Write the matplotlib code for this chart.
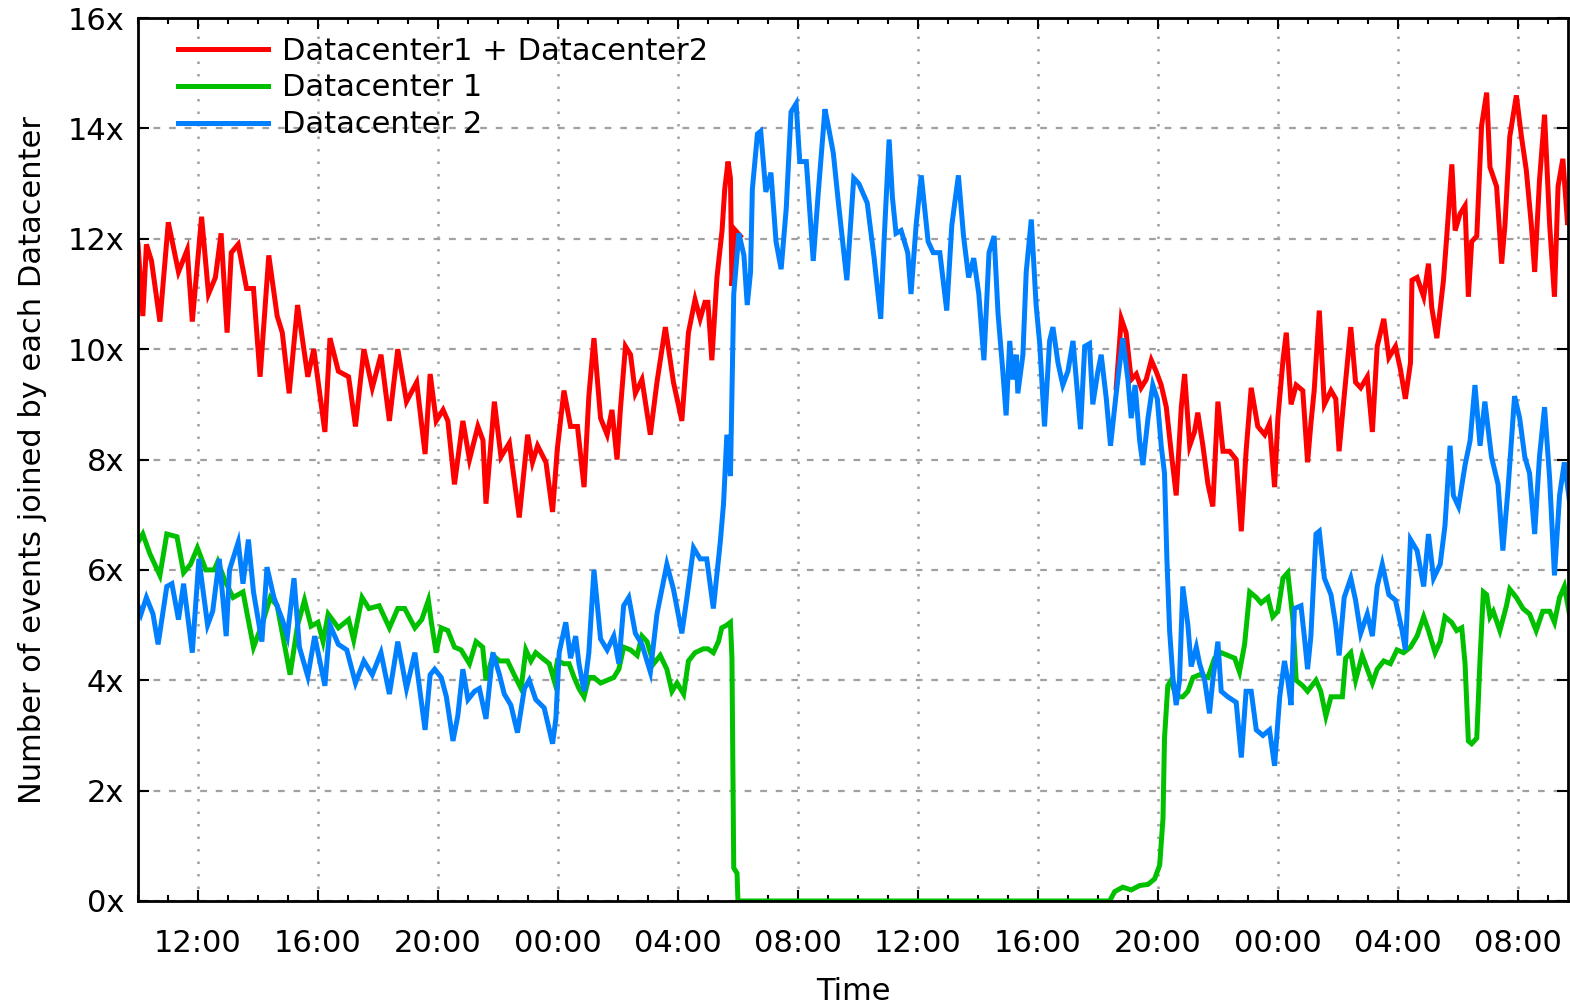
import matplotlib
matplotlib.use("Agg")
import matplotlib.pyplot as plt
import matplotlib.dates as mdates
import numpy as np
import pandas as pd

plt.rcParams['font.family'] = ['DejaVu Sans']

# hours since the first day 10:00
start = pd.Timestamp('2000-01-01 10:00')

red_h = [0, 0.16, 0.28, 0.45, 0.73, 1.01, 1.35, 1.64, 1.81, 2.12, 2.35, 2.58, 2.77, 2.97, 3.11, 3.34, 3.62, 3.85,
         4.07, 4.36, 4.64, 4.81, 5.04, 5.32, 5.66, 5.86, 6.23, 6.40, 6.68, 7.02, 7.25, 7.53, 7.81, 8.10, 8.38, 8.66,
         8.95, 9.29, 9.57, 9.74, 9.94, 10.17, 10.33, 10.55, 10.83, 11.05, 11.33, 11.5, 11.6, 11.88, 12.1, 12.38,
         12.71, 12.99, 13.15, 13.32, 13.6, 13.82, 13.98, 14.2, 14.42, 14.65, 14.87, 15.03, 15.2, 15.42, 15.64, 15.8,
         15.97, 16.08, 16.25, 16.42, 16.58, 16.8, 17.08, 17.3, 17.58, 17.85, 18.13, 18.35, 18.57, 18.74, 18.9, 19.0,
         19.13, 19.3, 19.47, 19.56, 19.67, 19.75, 19.8, 19.92, 20.08,
         26.0,
         32.61, 32.78, 32.94, 33.11, 33.28, 33.44, 33.61, 33.78, 33.94, 34.11, 34.28, 34.44, 34.61, 34.78, 34.89,
         35.06, 35.22, 35.33, 35.5, 35.67, 35.83, 36.0, 36.17, 36.39, 36.61, 36.78, 36.94, 37.11, 37.33, 37.56,
         37.72, 37.89, 38.0, 38.17, 38.28, 38.44, 38.61, 38.83, 38.99, 39.1, 39.21, 39.38, 39.55, 39.77, 39.93,
         40.04, 40.21, 40.43, 40.59, 40.76, 40.98, 41.15, 41.31, 41.53, 41.7, 41.92, 42.08, 42.25, 42.42, 42.47,
         42.64, 42.86, 43.02, 43.13, 43.3, 43.52, 43.63, 43.8, 43.91, 44.07, 44.24, 44.35, 44.46, 44.63, 44.79,
         44.96, 45.07, 45.29, 45.46, 45.57, 45.73, 45.95, 46.12, 46.28, 46.45, 46.56, 46.72, 46.89, 47.06, 47.22,
         47.34, 47.5, 47.66, 47.72]
red_v = [11.9, 10.6, 11.9, 11.6, 10.5, 12.3, 11.4, 11.8, 10.5, 12.4, 11.0, 11.3, 12.1, 10.3, 11.75, 11.9, 11.1, 11.1,
         9.5, 11.7, 10.6, 10.3, 9.2, 10.8, 9.5, 10.0, 8.5, 10.2, 9.6, 9.5, 8.6, 10.0, 9.3, 9.9, 8.7, 10.0,
         9.05, 9.4, 8.1, 9.55, 8.7, 8.9, 8.7, 7.55, 8.7, 8.0, 8.6, 8.35, 7.2, 9.05, 8.05, 8.3,
         6.95, 8.45, 7.95, 8.25, 7.95, 7.05, 8.2, 9.25, 8.6, 8.6, 7.5, 9.15, 10.2, 8.75, 8.45, 8.9,
         8.0, 8.9, 10.05, 9.9, 9.2, 9.45, 8.45, 9.4, 10.4, 9.4, 8.7, 10.3, 10.9, 10.55, 10.85, 10.85,
         9.8, 11.3, 12.15, 12.9, 13.4, 13.1, 11.15, 12.15, 12.05,
         np.nan,
         9.3, 10.55, 10.3, 9.45, 9.55, 9.3, 9.45, 9.8, 9.6, 9.35, 8.95, 8.15, 7.35, 8.95, 9.55,
         8.25, 8.5, 8.85, 8.25, 7.55, 7.15, 9.05, 8.15, 8.15, 8.0, 6.7, 8.15, 9.3, 8.6, 8.45,
         8.65, 7.5, 8.75, 9.8, 10.3, 9.0, 9.35, 9.25, 7.95, 8.65, 9.25, 10.7, 9.0, 9.25, 9.1,
         8.15, 9.15, 10.4, 9.4, 9.3, 9.5, 8.5, 10.05, 10.55, 9.85, 10.05, 9.65, 9.1, 9.75, 11.25,
         11.3, 10.95, 11.55, 10.75, 10.2, 11.25, 12.05, 13.35, 12.15, 12.45, 12.6, 10.95, 11.95, 12.05, 14.05,
         14.65, 13.3, 12.95, 11.55, 12.25, 13.85, 14.6, 13.85, 13.25, 12.25, 11.4, 13.05, 14.25, 12.25, 10.95,
         12.95, 13.45, 12.25, 12.9]

green_h = [0, 0.16, 0.39, 0.73, 0.96, 1.30, 1.52, 1.75, 1.98, 2.26, 2.54, 2.66, 2.9, 3.17, 3.5, 3.85, 4.13, 4.41,
           4.64, 5.07, 5.32, 5.55, 5.77, 6.0, 6.17, 6.34, 6.68, 7.02, 7.19, 7.47, 7.70, 8.04, 8.38, 8.66, 8.89,
           9.23, 9.46, 9.68, 9.78, 9.94, 10.11, 10.33, 10.55, 10.77, 11.05, 11.27, 11.49, 11.6, 11.83, 12.05,
           12.32, 12.54, 12.77, 12.93, 13.1, 13.26, 13.48, 13.71, 13.87, 13.98, 14.2, 14.37, 14.54, 14.7, 14.87,
           15.03, 15.2, 15.42, 15.64, 15.86, 16.03, 16.19, 16.42, 16.64, 16.8, 16.97, 17.19, 17.41, 17.63, 17.8,
           17.97, 18.19, 18.35, 18.57, 18.85, 19.0, 19.18, 19.35, 19.46, 19.63, 19.75, 19.8, 19.86, 19.97, 20.0,
           32.39, 32.56, 32.83, 33.11, 33.39, 33.67, 33.89, 34.06, 34.17, 34.22, 34.33, 34.44, 34.61, 34.83,
           35.0, 35.17, 35.39, 35.67, 35.89, 36.11, 36.33, 36.56, 36.72, 36.89, 37.06, 37.28, 37.44, 37.67,
           37.83, 38.0, 38.17, 38.33, 38.5, 38.61, 38.83, 38.99, 39.27, 39.43, 39.6, 39.77, 39.99, 40.15, 40.26,
           40.43, 40.59, 40.81, 40.98, 41.15, 41.31, 41.53, 41.75, 41.97, 42.19, 42.42, 42.64, 42.86, 43.02,
           43.24, 43.41, 43.57, 43.79, 43.96, 44.13, 44.24, 44.35, 44.46, 44.63, 44.74, 44.85, 44.96, 45.07,
           45.18, 45.4, 45.62, 45.73, 45.95, 46.17, 46.39, 46.61, 46.83, 47.06, 47.22, 47.39, 47.55, 47.72]
green_v = [6.5, 6.65, 6.3, 5.9, 6.65, 6.6, 5.95, 6.1, 6.4, 6.0, 6.0, 6.15, 5.8, 5.5, 5.6, 4.6, 5.0, 5.5,
           5.35, 4.1, 5.0, 5.45, 4.98, 5.05, 4.7, 5.2, 4.95, 5.1, 4.73, 5.5, 5.3, 5.35, 4.95, 5.3, 5.3,
           4.95, 5.1, 5.45, 5.05, 4.5, 4.95, 4.9, 4.6, 4.55, 4.3, 4.7, 4.6, 4.0, 4.45, 4.35,
           4.35, 4.1, 3.85, 4.55, 4.35, 4.5, 4.4, 4.3, 4.0, 4.35, 4.3, 4.3, 4.05, 3.85, 3.7,
           4.05, 4.05, 3.95, 4.0, 4.05, 4.2, 4.6, 4.55, 4.45, 4.8, 4.7, 4.3, 4.45, 4.2, 3.8,
           3.95, 3.75, 4.35, 4.5, 4.57, 4.57, 4.5, 4.7, 4.95, 5.0, 5.05, 4.4, 0.6, 0.5, 0.0,
           0.0, 0.17, 0.25, 0.2, 0.28, 0.3, 0.4, 0.65, 1.5, 2.95, 3.9, 4.0, 3.7, 3.7,
           3.8, 4.05, 4.1, 4.05, 4.4, 4.5, 4.45, 4.4, 4.15, 4.65, 5.6, 5.5, 5.4, 5.5,
           5.15, 5.25, 5.85, 5.95, 5.1, 4.0, 3.9, 3.8, 4.0, 3.8, 3.35, 3.7, 3.7, 3.7, 4.4,
           4.5, 4.0, 4.45, 4.2, 3.95, 4.2, 4.35, 4.3, 4.55, 4.5, 4.6, 4.8, 5.15, 4.9,
           4.5, 4.7, 5.15, 5.05, 4.9, 4.95, 4.3, 2.9, 2.85, 2.95, 4.4, 5.6, 5.55, 5.15,
           5.25, 4.9, 5.35, 5.65, 5.5, 5.3, 5.2, 4.9, 5.25, 5.25, 5.05, 5.5, 5.7, 5.2]

blue_h = [0, 0.1, 0.28, 0.5, 0.67, 0.96, 1.13, 1.35, 1.52, 1.81, 2.03, 2.32, 2.49, 2.71, 2.94, 3.05, 3.34, 3.5,
          3.68, 3.85, 4.13, 4.3, 4.53, 4.81, 4.98, 5.2, 5.38, 5.66, 5.89, 6.23, 6.4, 6.68, 6.96, 7.25, 7.53, 7.81,
          8.1, 8.38, 8.66, 8.95, 9.23, 9.57, 9.74, 9.89, 10.11, 10.28, 10.5, 10.66, 10.83, 11.0, 11.22, 11.38,
          11.6, 11.83, 12.05, 12.21, 12.43, 12.65, 12.88, 13.04, 13.26, 13.54, 13.82, 13.93, 14.04, 14.26, 14.42,
          14.59, 14.7, 14.87, 15.03, 15.2, 15.42, 15.64, 15.86, 16.03, 16.19, 16.36, 16.58, 16.8, 17.08, 17.3,
          17.63, 17.85, 18.13, 18.3, 18.52, 18.74, 18.96, 19.18, 19.41, 19.52, 19.63, 19.75, 19.86, 20.03, 20.2,
          20.31, 20.42, 20.48, 20.65, 20.76, 20.93, 21.1, 21.27, 21.44, 21.61, 21.77, 21.94, 22.06, 22.28, 22.51,
          22.68, 22.9, 23.01, 23.18, 23.35, 23.63, 23.86, 24.03, 24.31, 24.54, 24.76, 24.87, 25.04, 25.15, 25.27,
          25.44, 25.66, 25.77, 25.94, 26.11, 26.34, 26.51, 26.73, 26.96, 27.13, 27.35, 27.52, 27.69, 27.86, 28.03,
          28.2, 28.37, 28.54, 28.67, 28.83, 28.94, 29.06, 29.17, 29.28, 29.33, 29.5, 29.61, 29.78, 29.94, 30.06,
          30.22, 30.39, 30.5, 30.67, 30.83, 31.0, 31.17, 31.28, 31.42, 31.56, 31.72, 31.83, 32.0, 32.11, 32.28,
          32.42, 32.61, 32.83, 33.0, 33.11, 33.24, 33.39, 33.5, 33.67, 33.83, 33.98, 34.11, 34.22, 34.3, 34.39,
          34.5, 34.61, 34.72, 34.83, 35.0, 35.11, 35.28, 35.39, 35.56, 35.72, 35.83, 36.0, 36.11, 36.33, 36.61,
          36.78, 36.94, 37.11, 37.28, 37.5, 37.72, 37.89, 38.06, 38.22, 38.33, 38.44, 38.55, 38.77, 38.88, 38.99,
          39.1, 39.27, 39.38, 39.55, 39.77, 39.93, 40.04, 40.21, 40.43, 40.59, 40.76, 40.98, 41.15, 41.31, 41.48,
          41.7, 41.92, 42.14, 42.25, 42.42, 42.64, 42.86, 43.02, 43.19, 43.41, 43.57, 43.74, 43.85, 44.02, 44.24,
          44.41, 44.57, 44.74, 44.9, 45.12, 45.34, 45.5, 45.67, 45.89, 46.06, 46.23, 46.39, 46.56, 46.72, 46.89,
          47.06, 47.22, 47.39, 47.55, 47.72]
blue_v = [5.35, 5.2, 5.5, 5.2, 4.65, 5.7, 5.75, 5.1, 5.75, 4.5, 6.2, 5.0, 5.25, 6.2, 4.8, 6.0, 6.5, 5.75,
          6.55, 5.6, 4.7, 6.05, 5.5, 5.1, 4.8, 5.85, 4.6, 4.07, 4.8, 3.9, 5.0, 4.65, 4.55, 3.95, 4.35, 4.1,
          4.5, 3.75, 4.7, 3.85, 4.5, 3.1, 4.1, 4.2, 4.05, 3.7, 2.9, 3.35, 4.2, 3.65, 3.8, 3.85,
          3.3, 4.5, 4.1, 3.75, 3.55, 3.05, 3.85, 4.0, 3.65, 3.5, 2.85, 3.3, 4.5, 5.05, 4.4,
          4.8, 4.3, 3.8, 4.5, 6.0, 4.75, 4.55, 4.8, 4.3, 5.35, 5.5, 4.85, 4.65, 4.15, 5.2,
          6.1, 5.65, 4.85, 5.5, 6.4, 6.2, 6.2, 5.3, 6.5, 7.2, 8.45, 7.7, 11.0, 12.1, 11.7,
          10.8, 11.4, 12.9, 13.9, 13.95, 12.85, 13.2, 11.95, 11.45, 12.55, 14.3, 14.45, 13.4, 13.4, 11.6,
          12.85, 14.35, 14.05, 13.55, 12.65, 11.25, 13.1, 13.0, 12.65, 11.65, 10.55, 11.95, 13.8, 12.75, 12.1,
          12.15, 11.75, 11.0, 12.25, 13.15, 11.95, 11.75, 11.75, 10.7, 12.25, 13.15, 12.05, 11.3, 11.65, 11.0,
          9.8, 11.75, 12.05, 10.65, 9.6, 8.8, 10.15, 9.45, 9.9, 9.2, 9.9, 11.4, 12.35, 10.8, 10.1,
          8.6, 10.15, 10.4, 9.75, 9.35, 9.6, 10.15, 9.45, 8.55, 10.05, 10.1, 9.0, 9.6, 9.9, 9.1,
          8.25, 9.2, 10.2, 9.45, 8.75, 9.35, 8.35, 7.9, 8.75, 9.35, 9.1, 8.25, 7.75, 6.2, 4.9,
          4.05, 3.55, 4.0, 5.7, 5.0, 4.25, 4.6, 4.3, 4.0, 3.4, 4.0, 4.7, 3.8, 3.7, 3.6,
          2.6, 3.8, 3.8, 3.1, 3.0, 3.1, 2.45, 3.7, 4.35, 4.0, 3.55, 5.3, 5.35, 4.8, 4.2,
          4.8, 6.65, 6.7, 5.85, 5.55, 5.0, 4.45, 5.5, 5.85, 5.45, 4.85, 5.2, 4.8, 5.7, 6.1,
          5.55, 5.45, 4.9, 4.55, 6.55, 6.35, 5.7, 6.65, 5.85, 6.1, 6.8, 8.25, 7.35, 7.15, 7.9,
          8.35, 9.35, 8.25, 9.05, 8.05, 7.55, 6.35, 7.45, 9.15, 8.75, 8.05, 7.75, 6.65, 8.05, 8.95,
          7.65, 5.9, 7.35, 7.95, 7.25]

labels = ['Datacenter1 + Datacenter2', 'Datacenter 1', 'Datacenter 2']
colors = ['#ff0000', '#00c000', '#0080ff']
y_ticks = [0, 2, 4, 6, 8, 10, 12, 14, 16]


def to_time(hours):
    return start + pd.to_timedelta(hours, unit='h')


fig = plt.figure(figsize=(15.7, 10.07), dpi=100)
ax = fig.add_axes([0.0879, 0.1053, 0.9108, 0.8767])

for h, v, c, lab in zip([red_h, green_h, blue_h], [red_v, green_v, blue_v], colors, labels):
    ax.plot(to_time(h), v, color=c, lw=3.6, label=lab, solid_joinstyle='miter')

ax.set_xlim(to_time(0), to_time(47.67))
ax.set_ylim(0, 16)
ax.set_yticks(y_ticks)
ax.set_yticklabels(['%dx' % t for t in y_ticks])

ax.xaxis.set_major_locator(mdates.HourLocator(byhour=range(0, 24, 4)))
ax.xaxis.set_minor_locator(mdates.HourLocator())
ax.xaxis.set_major_formatter(mdates.DateFormatter('%H:%M'))

ax.grid(axis='x', which='major', color='#a0a0a0', linestyle=(0, (1, 4)), lw=1.8)
ax.grid(axis='y', which='major', color='#a0a0a0', linestyle=(0, (3, 4)), lw=1.6)

ax.tick_params(which='both', direction='in', top=True, right=True, labelsize=22, width=1.5)
ax.tick_params(which='major', length=8)
ax.tick_params(which='minor', length=4.5)
ax.tick_params(axis='x', pad=20)
ax.tick_params(axis='y', pad=10)
for s in ax.spines.values():
    s.set_linewidth(2)

ax.set_xlabel('Time', fontsize=22, labelpad=14)
ax.set_ylabel('Number of events joined by each Datacenter', fontsize=22, labelpad=15)

ax.legend(loc='upper left', bbox_to_anchor=(0.0196, 0.993), borderaxespad=0, frameon=False, fontsize=22,
          handlelength=2.95, handletextpad=0.46, labelspacing=0.26)

fig.savefig('out.png', dpi=100)
